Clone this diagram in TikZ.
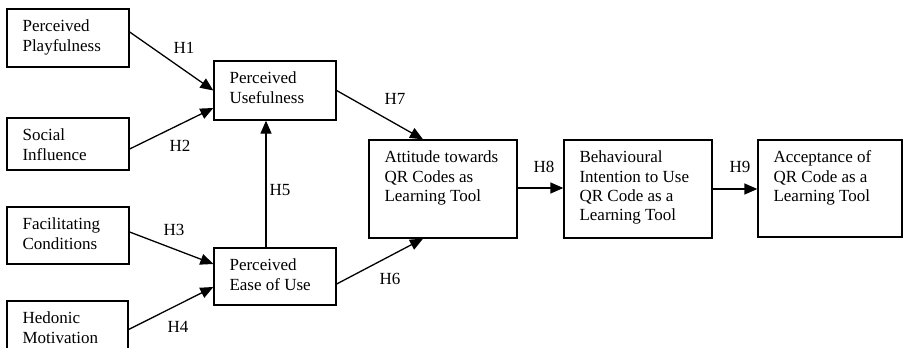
\documentclass[tikz,border=0pt]{standalone}
\usepackage{fontspec}
\setmainfont{Liberation Serif}
\usetikzlibrary{arrows.meta,calc}

\tikzset{
  box/.style={draw, line width=1.3pt, inner sep=0pt, fill=white},
  txt/.style={anchor=north west, inner sep=0pt, align=left,
              font=\fontsize{17}{19.3}\selectfont},
  hyp/.style={inner sep=0pt, font=\fontsize{17}{19.3}\selectfont},
  link/.style={line width=1.3pt, -{Triangle[length=13pt,width=11pt]}},
}

% place the text of a box: first baseline 23pt below the top, 16pt in from the left
\newcommand{\boxtext}[2]{%
  \node[txt] (#1-t) at ($(#1.north west)+(16,11.4)$) {#2};}

\begin{document}
\begin{tikzpicture}[x=1pt,y=-1pt]
\clip (0,0) rectangle (903,348);
\fill[white] (0,0) rectangle (903,348);

% constructs
\node[box, minimum width=122pt, minimum height=58pt] (pp)  at (68,38)    {};
\node[box, minimum width=122pt, minimum height=52pt] (si)  at (68,144)   {};
\node[box, minimum width=122pt, minimum height=57pt] (fc)  at (68,235.5) {};
\node[box, minimum width=121pt, minimum height=57pt] (hm)  at (67.5,329.5) {};
\node[box, minimum width=122pt, minimum height=59pt] (pu)  at (275,90.5) {};
\node[box, minimum width=122pt, minimum height=57pt] (peu) at (275,276.5) {};
\node[box, minimum width=148pt, minimum height=98pt] (att) at (443,189)  {};
\node[box, minimum width=148pt, minimum height=98pt] (bi)  at (638,189)  {};
\node[box, minimum width=144pt, minimum height=97pt] (acc) at (830,188.5) {};

\boxtext{pp}{Perceived\\Playfulness}
\boxtext{si}{Social\\Influence}
\boxtext{fc}{Facilitating\\Conditions}
\boxtext{hm}{Hedonic\\Motivation}
\boxtext{pu}{Perceived\\Usefulness}
\boxtext{peu}{Perceived\\Ease of Use}
\boxtext{att}{Attitude towards\\QR Codes as\\Learning Tool}
\boxtext{bi}{Behavioural\\Intention to Use\\QR Code as a\\Learning Tool}
\boxtext{acc}{Acceptance of\\QR Code as a\\Learning Tool}

% hypothesised paths
\draw[link] ($(pp.east)+(0,-6)$)  -- (pu.west);
\draw[link] ($(si.east)+(0,5)$)   -- ($(pu.west)+(0,17.5)$);
\draw[link] ($(fc.east)+(0,-3.5)$) -- ($(peu.west)+(0,-12.5)$);
\draw[link] (hm.east)             -- ($(peu.west)+(0,10.5)$);
\draw[link] ($(peu.north)+(-9,0)$) -- ($(pu.south)+(-9,0)$);
\draw[link] ($(peu.east)+(0,7.5)$) -- ($(att.south)+(-20,0)$);
\draw[link] (pu.east)             -- ($(att.north)+(-20,0)$);
\draw[link] ($(att.east)+(0,-1)$) -- ($(bi.west)+(0,-1)$);
\draw[link] (bi.east)             -- (acc.west |- bi.east);

% path labels
\node[hyp] (h1) at (184,48)  {H1};
\node[hyp] (h2) at (180,146) {H2};
\node[hyp] (h3) at (174,230) {H3};
\node[hyp] (h4) at (178,327) {H4};
\node[hyp] (h5) at (280,190) {H5};
\node[hyp] (h6) at (390,279) {H6};
\node[hyp] (h7) at (395,99)  {H7};
\node[hyp] (h8) at (544,167) {H8};
\node[hyp] (h9) at (740,167) {H9};
\end{tikzpicture}
\end{document}
